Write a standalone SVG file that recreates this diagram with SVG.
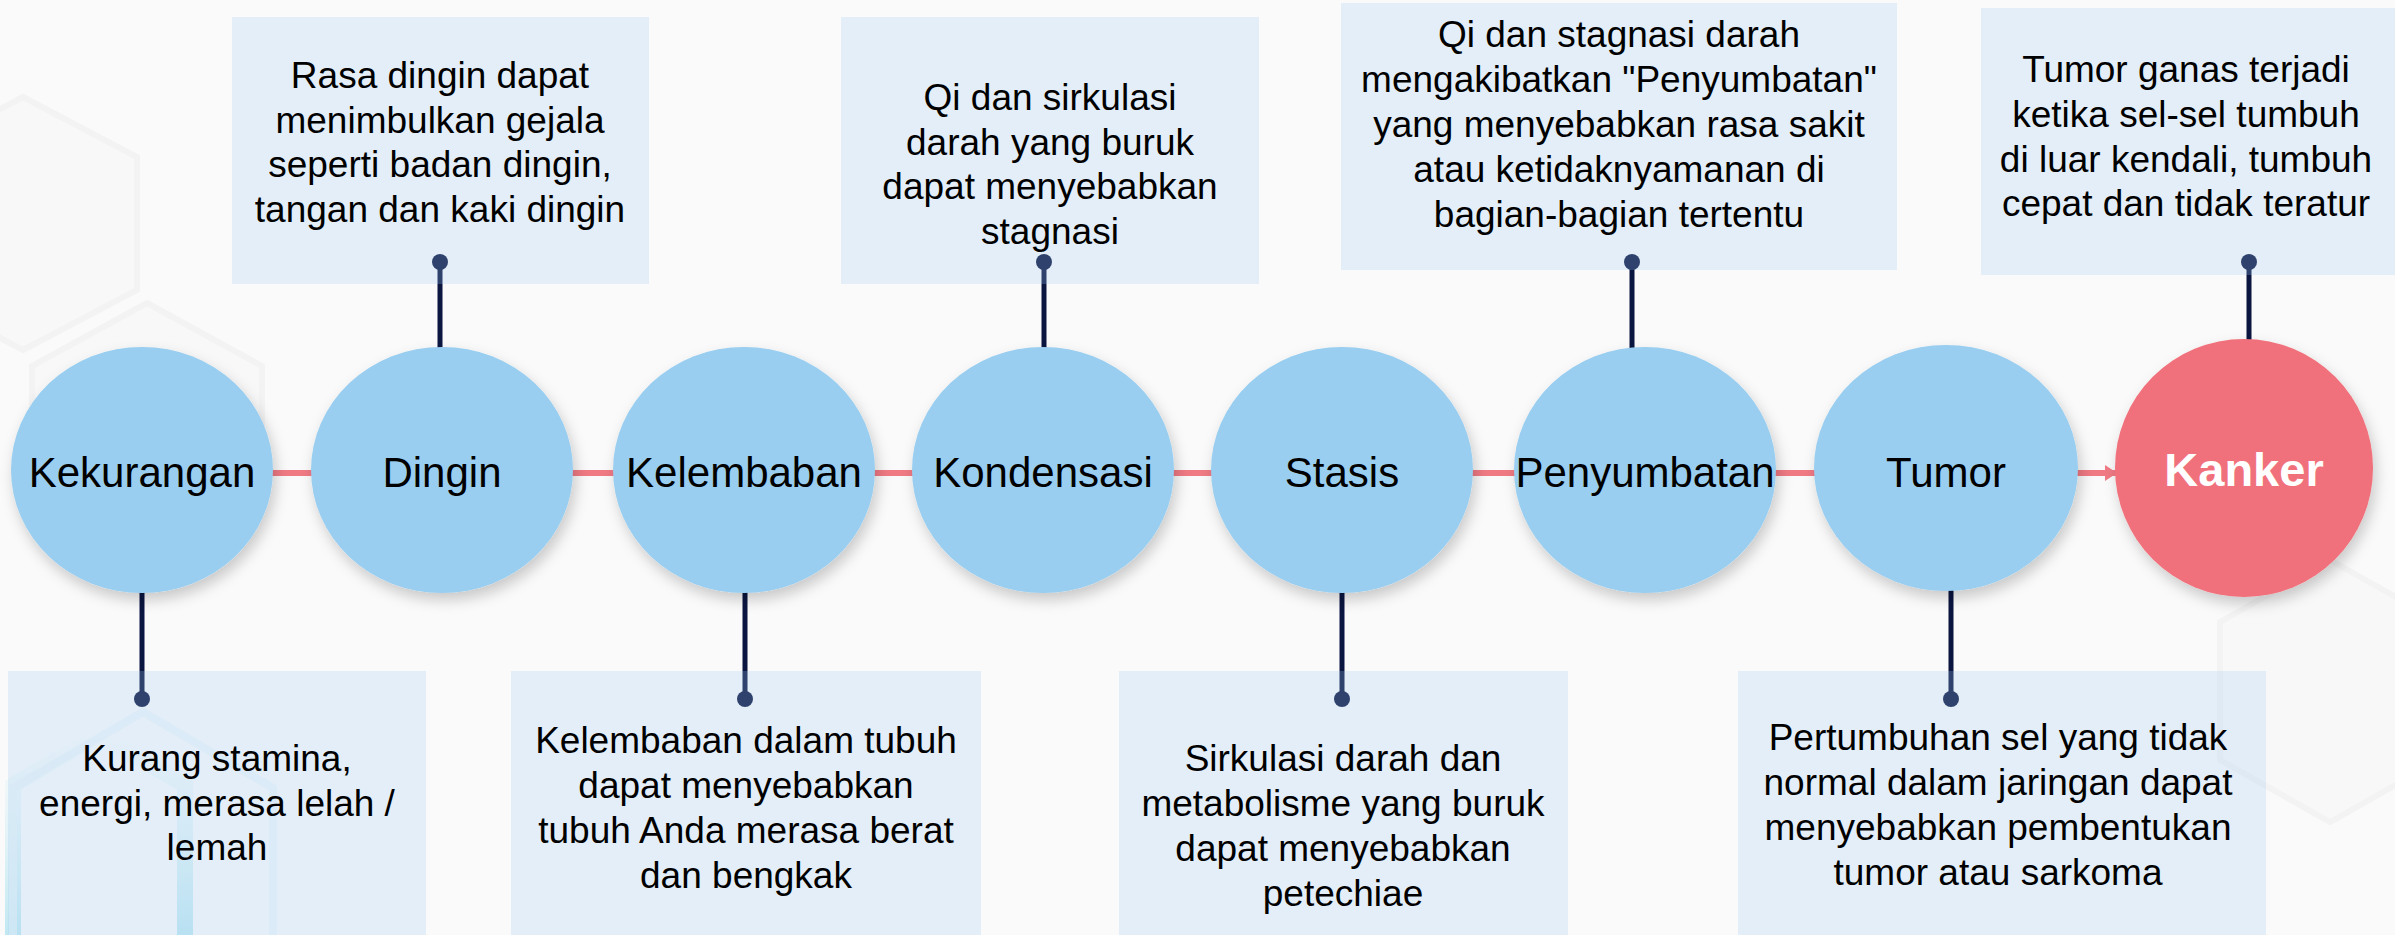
<svg xmlns="http://www.w3.org/2000/svg" width="2395" height="935" viewBox="0 0 2395 935">
<defs>
<style>
.lbl{font-family:"Liberation Sans",Arial,sans-serif;font-size:42px;fill:#000;text-anchor:middle}
.klbl{font-family:"Liberation Sans",Arial,sans-serif;font-size:47px;font-weight:bold;fill:#fff;text-anchor:middle}
.desc{font-family:"Liberation Sans",Arial,sans-serif;font-size:37px;fill:#000;text-anchor:middle}
.circ{fill:#99CEF0;filter:url(#sh)}
.kcirc{fill:#F0717C;filter:url(#sh)}
.box{fill:rgb(158,202,242);fill-opacity:0.25}
.conn{stroke:#0A1540;stroke-width:5;fill:none}
.dot{fill:#0A1540}
.flow{stroke:#F07A84;stroke-width:6;fill:none}
.hexg{fill:#F6F6F6;fill-opacity:0.6;stroke:#F3F3F3;stroke-width:6}
</style>
<filter id="sh" x="-20%" y="-20%" width="140%" height="150%">
<feDropShadow dx="3" dy="7" stdDeviation="7" flood-color="#000" flood-opacity="0.2"/>
</filter>
<marker id="arr" viewBox="0 0 12 16" refX="12" refY="8" markerWidth="12" markerHeight="16" markerUnits="userSpaceOnUse" orient="auto">
<path d="M0,0 L12,8 L0,16 z" fill="#F07A84"/>
</marker>
<linearGradient id="cyan" x1="0" y1="0" x2="0" y2="1">
<stop offset="0" stop-color="#C8ECF4" stop-opacity="0"/>
<stop offset="0.5" stop-color="#B5E5F0" stop-opacity="0.5"/>
<stop offset="1" stop-color="#9EDDEC" stop-opacity="1"/>
</linearGradient>
</defs>
<rect x="0" y="0" width="2395" height="935" fill="#FAFAFA"/>
<g id="background">
<polygon class="hexg" points="23,97 137,157 137,290 23,350 -91,290 -91,157"/>
<polygon class="hexg" points="147,303 262,366 262,500 147,563 32,500 32,366"/>
<polygon class="hexg" points="2330,560 2440,622 2440,760 2330,822 2220,760 2220,622"/>
<polygon points="99,735 185,785 185,960 99,1010 13,960 13,785" fill="none" stroke="url(#cyan)" stroke-width="16"/>
<polygon points="143,712 273,788 273,960 143,1036 13,960 13,788" fill="none" stroke="#EAF3F6" stroke-width="8" opacity="0.7"/>
</g>
<g id="connectors">
<path class="flow" d="M142,473 H2117" marker-end="url(#arr)"/>
<path class="conn" d="M440,262 V350"/>
<circle class="dot" cx="440" cy="262" r="8"/>
<path class="conn" d="M1044,262 V350"/>
<circle class="dot" cx="1044" cy="262" r="8"/>
<path class="conn" d="M1632,262 V350"/>
<circle class="dot" cx="1632" cy="262" r="8"/>
<path class="conn" d="M2249,262 V342"/>
<circle class="dot" cx="2249" cy="262" r="8"/>
<path class="conn" d="M142,590 V699"/>
<circle class="dot" cx="142" cy="699" r="8"/>
<path class="conn" d="M745,590 V699"/>
<circle class="dot" cx="745" cy="699" r="8"/>
<path class="conn" d="M1342,590 V699"/>
<circle class="dot" cx="1342" cy="699" r="8"/>
<path class="conn" d="M1951,588 V699"/>
<circle class="dot" cx="1951" cy="699" r="8"/>
</g>
<g id="node-kekurangan">
<ellipse class="circ" cx="142" cy="470" rx="131" ry="123"/>
<text class="lbl" x="142" y="487">Kekurangan</text>
<rect class="box" x="8" y="671" width="418" height="264"/>
<text class="desc"><tspan x="217" y="771">Kurang stamina,</tspan><tspan x="217" y="816">energi, merasa lelah /</tspan><tspan x="217" y="860">lemah</tspan></text>
</g>
<g id="node-dingin">
<ellipse class="circ" cx="442" cy="470" rx="131" ry="123"/>
<text class="lbl" x="442" y="487">Dingin</text>
<rect class="box" x="232" y="17" width="417" height="267"/>
<text class="desc"><tspan x="440" y="88">Rasa dingin dapat</tspan><tspan x="440" y="133">menimbulkan gejala</tspan><tspan x="440" y="177">seperti badan dingin,</tspan><tspan x="440" y="222">tangan dan kaki dingin</tspan></text>
</g>
<g id="node-kelembaban">
<ellipse class="circ" cx="744" cy="470" rx="131" ry="123"/>
<text class="lbl" x="744" y="487">Kelembaban</text>
<rect class="box" x="511" y="671" width="470" height="264"/>
<text class="desc"><tspan x="746" y="753">Kelembaban dalam tubuh</tspan><tspan x="746" y="798">dapat menyebabkan</tspan><tspan x="746" y="843">tubuh Anda merasa berat</tspan><tspan x="746" y="888">dan bengkak</tspan></text>
</g>
<g id="node-kondensasi">
<ellipse class="circ" cx="1043" cy="470" rx="131" ry="123"/>
<text class="lbl" x="1043" y="487">Kondensasi</text>
<rect class="box" x="841" y="17" width="418" height="267"/>
<text class="desc"><tspan x="1050" y="110">Qi dan sirkulasi</tspan><tspan x="1050" y="155">darah yang buruk</tspan><tspan x="1050" y="199">dapat menyebabkan</tspan><tspan x="1050" y="244">stagnasi</tspan></text>
</g>
<g id="node-stasis">
<ellipse class="circ" cx="1342" cy="470" rx="131" ry="123"/>
<text class="lbl" x="1342" y="487">Stasis</text>
<rect class="box" x="1119" y="671" width="449" height="264"/>
<text class="desc"><tspan x="1343" y="771">Sirkulasi darah dan</tspan><tspan x="1343" y="816">metabolisme yang buruk</tspan><tspan x="1343" y="861">dapat menyebabkan</tspan><tspan x="1343" y="906">petechiae</tspan></text>
</g>
<g id="node-penyumbatan">
<ellipse class="circ" cx="1645" cy="470" rx="131" ry="123"/>
<text class="lbl" x="1645" y="487">Penyumbatan</text>
<rect class="box" x="1341" y="3" width="556" height="267"/>
<text class="desc"><tspan x="1619" y="47">Qi dan stagnasi darah</tspan><tspan x="1619" y="92">mengakibatkan "Penyumbatan"</tspan><tspan x="1619" y="137">yang menyebabkan rasa sakit</tspan><tspan x="1619" y="182">atau ketidaknyamanan di</tspan><tspan x="1619" y="227">bagian-bagian tertentu</tspan></text>
</g>
<g id="node-tumor">
<ellipse class="circ" cx="1946" cy="468" rx="132" ry="123"/>
<text class="lbl" x="1946" y="487">Tumor</text>
<rect class="box" x="1738" y="671" width="528" height="264"/>
<text class="desc"><tspan x="1998" y="750">Pertumbuhan sel yang tidak</tspan><tspan x="1998" y="795">normal dalam jaringan dapat</tspan><tspan x="1998" y="840">menyebabkan pembentukan</tspan><tspan x="1998" y="885">tumor atau sarkoma</tspan></text>
</g>
<g id="node-kanker">
<circle class="kcirc" cx="2244" cy="468" r="129"/>
<text class="klbl" x="2244" y="486">Kanker</text>
<rect class="box" x="1981" y="8" width="414" height="267"/>
<text class="desc"><tspan x="2186" y="82">Tumor ganas terjadi</tspan><tspan x="2186" y="127">ketika sel-sel tumbuh</tspan><tspan x="2186" y="172">di luar kendali, tumbuh</tspan><tspan x="2186" y="216">cepat dan tidak teratur</tspan></text>
</g>
</svg>
